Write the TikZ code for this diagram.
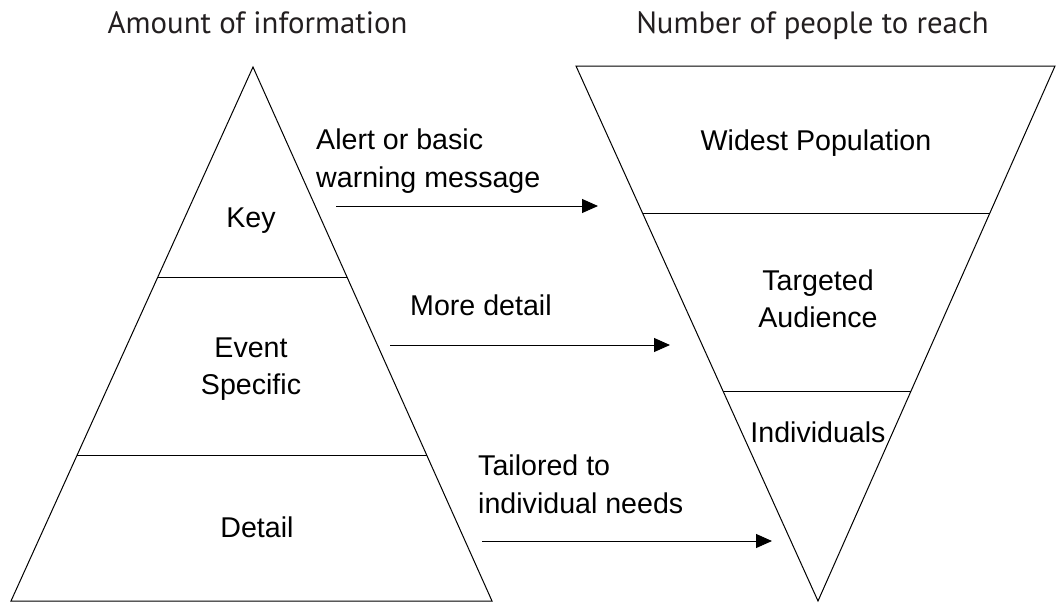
\documentclass[tikz,border=0pt]{standalone}
\usepackage{fontspec}
\setmainfont{Liberation Sans}
\newfontfamily\headfont{PT Sans}
\usetikzlibrary{calc,arrows.meta}
\definecolor{headgray}{RGB}{35,31,32}
\tikzstyle{edge} = [draw, line width=1pt]
\tikzstyle{line} = [draw, line width=1pt, -{Triangle[length=16pt,width=14pt]}]
\tikzstyle{label} = [inner sep=0pt, align=center, font=\fontsize{28.6}{37}\selectfont]
\tikzstyle{note} = [inner sep=0pt, align=left, font=\fontsize{28.6}{38}\selectfont]
\tikzstyle{heading} = [inner sep=0pt, text=headgray, font=\headfont\fontsize{30.8}{36}\selectfont]

\begin{document}
\begin{tikzpicture}[x=1pt, y=-1pt]
        \useasboundingbox (0,0) rectangle (1060,603);
        % pyramid
        \coordinate (apex) at (253,67);
        \coordinate (baseL) at (11,601);
        \coordinate (baseR) at (492,601);
        \path[edge] (apex) -- (baseL) -- (baseR) -- cycle;
        \path[edge] ($(apex)!0.395!(baseL)$) -- ($(apex)!0.395!(baseR)$);
        \path[edge] ($(apex)!0.7266!(baseL)$) -- ($(apex)!0.7266!(baseR)$);
        % funnel
        \coordinate (topL) at (576,66);
        \coordinate (topR) at (1055,66);
        \coordinate (tip) at (818,601);
        \path[edge] (topL) -- (topR) -- (tip) -- cycle;
        \path[edge] ($(tip)!0.7252!(topL)$) -- ($(tip)!0.7252!(topR)$);
        \path[edge] ($(tip)!0.3925!(topL)$) -- ($(tip)!0.3925!(topR)$);
        % headings
        \node[heading, anchor=base] (amount) at (257.5,33) {Amount of information};
        \node[heading, anchor=base] (number) at (812.5,33) {Number of people to reach};
        % levels (base = last line)
        \node[label, anchor=base] (key) at (251,227) {Key};
        \node[label, anchor=base] (event) at (251,394) {Event\\Specific};
        \node[label, anchor=base] (detail) at (257,537) {Detail};
        \node[label, anchor=base] (widest) at (816,150) {Widest Population};
        \node[label, anchor=base] (targeted) at (818,327) {Targeted\\Audience};
        \node[label, anchor=base] (individuals) at (818,442) {Individuals};
        % messages
        \node[note, anchor=base west] (alert) at (316,187) {Alert or basic\\warning message};
        \node[note, anchor=base west] (more) at (410,315) {More detail};
        \node[note, anchor=base west] (tailored) at (478,513) {Tailored to\\individual needs};
        \coordinate (alertS) at (336,206);
        \coordinate (alertE) at (598,206);
        \coordinate (moreS) at (390,345);
        \coordinate (moreE) at (670,345);
        \coordinate (tailS) at (482,541);
        \coordinate (tailE) at (772,541);
        \path[line] (alertS) -- (alertE);
        \path[line] (moreS) -- (moreE);
        \path[line] (tailS) -- (tailE);
    \end{tikzpicture}
\end{document}
